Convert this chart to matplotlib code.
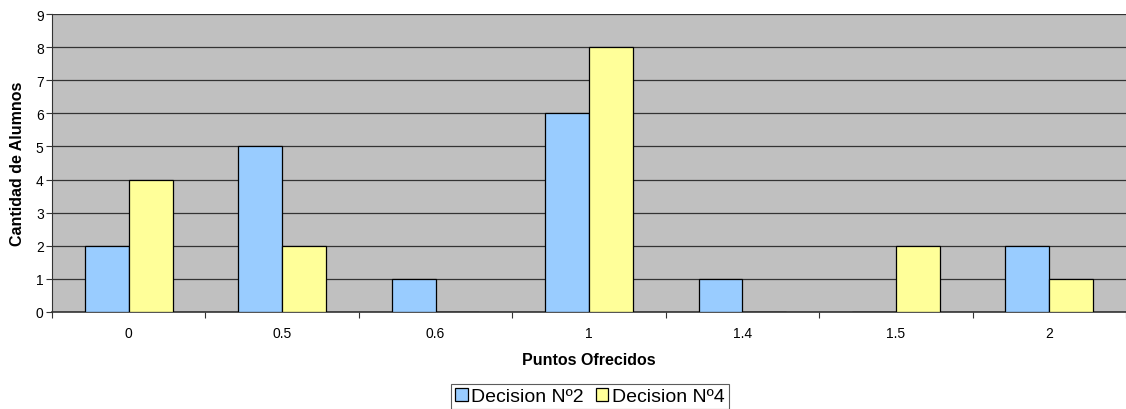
import matplotlib
matplotlib.use("Agg")
import matplotlib.pyplot as plt
import numpy as np

plt.rcParams['font.family'] = ['Liberation Sans', 'DejaVu Sans']

categories = ["0", "0.5", "0.6", "1", "1.4", "1.5", "2"]
decision2 = [2, 5, 1, 6, 1, 0, 2]
decision4 = [4, 2, 0, 8, 0, 2, 1]

fig = plt.figure(figsize=(11.26, 4.10), dpi=100)
ax = fig.add_axes([52 / 1126, 97 / 410, 1 - 52 / 1126, 298 / 410])
ax.set_facecolor("#C0C0C0")

x = np.arange(len(categories))
w = 0.286
ax.bar(x - w / 2, decision2, w, color="#99CCFF", edgecolor="black", linewidth=0.9,
       label="Decision Nº2", zorder=3)
ax.bar(x + w / 2, decision4, w, color="#FFFF99", edgecolor="black", linewidth=0.9,
       label="Decision Nº4", zorder=3)

ax.set_xlim(-0.5, len(categories) - 0.5)
ax.set_ylim(0, 9)
ax.set_yticks(range(10))
ax.yaxis.grid(True, color="#333333", linewidth=0.9, zorder=1)
ax.set_axisbelow(True)

ax.set_xticks(x)
ax.set_xticklabels(categories, fontsize=10)
ax.set_xticks(np.arange(-0.5, len(categories) + 0.5, 1), minor=True)
ax.tick_params(axis="x", which="major", length=0, pad=10)
ax.tick_params(axis="x", which="minor", length=4, width=0.8, color="#333333", direction="out")
ax.tick_params(axis="y", length=4, width=0.8, color="#333333", labelsize=10, pad=2)

for side in ["top", "right"]:
    ax.spines[side].set_visible(False)
ax.spines["left"].set_color("#333333")
ax.spines["bottom"].set_color("#333333")
ax.spines["bottom"].set_linewidth(1.2)

ax.set_xlabel("Puntos Ofrecidos", fontsize=11.5, fontweight="bold", labelpad=9)
ax.set_ylabel("Cantidad de Alumnos", fontsize=11.5, fontweight="bold", labelpad=8)

leg = fig.legend(loc="upper center", bbox_to_anchor=(590 / 1126, 25 / 410), ncol=2,
                 fontsize=14, frameon=True, fancybox=False, handlelength=0.65,
                 handleheight=0.65, handletextpad=0.2, columnspacing=0.6,
                 borderpad=0.2, borderaxespad=0)
leg.get_frame().set_edgecolor("#333333")
leg.get_frame().set_linewidth(0.8)

fig.savefig("out.png", dpi=100)
